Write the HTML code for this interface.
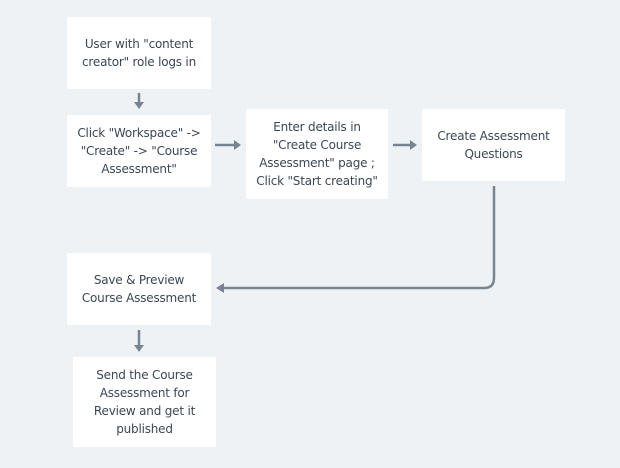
<!DOCTYPE html>
<html><head><meta charset="utf-8"><style>
body{margin:0;width:620px;height:468px;background:#eff2f5;position:relative;overflow:hidden;font-family:"DejaVu Sans","Liberation Sans",sans-serif;}
.b{position:absolute;background:#fff;border-radius:2px;display:flex;align-items:center;justify-content:center;text-align:center;color:#3b4754;font-size:12px;line-height:18px;letter-spacing:-0.2px;}
svg{position:absolute;left:0;top:0}
</style></head><body>
<div class="b" style="left:67px;top:17px;width:144px;height:72px">User with "content<br>creator" role logs in</div>
<div class="b" style="left:67px;top:115px;width:144px;height:72px">Click "Workspace" -&gt;<br>"Create" -&gt; "Course<br>Assessment"</div>
<div class="b" style="left:246px;top:109px;width:142px;height:90px">Enter details in<br>"Create Course<br>Assessment" page ;<br>Click "Start creating"</div>
<div class="b" style="left:422px;top:109px;width:143px;height:72px">Create Assessment<br>Questions</div>
<div class="b" style="left:67px;top:253px;width:144px;height:72px">Save &amp; Preview<br>Course Assessment</div>
<div class="b" style="left:73px;top:357px;width:143px;height:90px">Send the Course<br>Assessment for<br>Review and get it<br>published</div>
<svg width="620" height="468">
<g stroke="#778593" stroke-width="2.5" fill="none">
<line x1="139" y1="93" x2="139" y2="104"/>
<line x1="215" y1="145" x2="236" y2="145"/>
<line x1="393" y1="145" x2="412" y2="145"/>
<path d="M494 186 V278 Q494 288 484 288 H222"/>
<line x1="139" y1="330" x2="139" y2="347"/>
</g>
<g fill="#778593">
<polygon points="134,102 144,102 139,109"/>
<polygon points="234,140 234,150 241,145"/>
<polygon points="410,140 410,150 417,145"/>
<polygon points="224,283 224,293 216,288"/>
<polygon points="134,345 144,345 139,352"/>
</g>
</svg>
</body></html>
